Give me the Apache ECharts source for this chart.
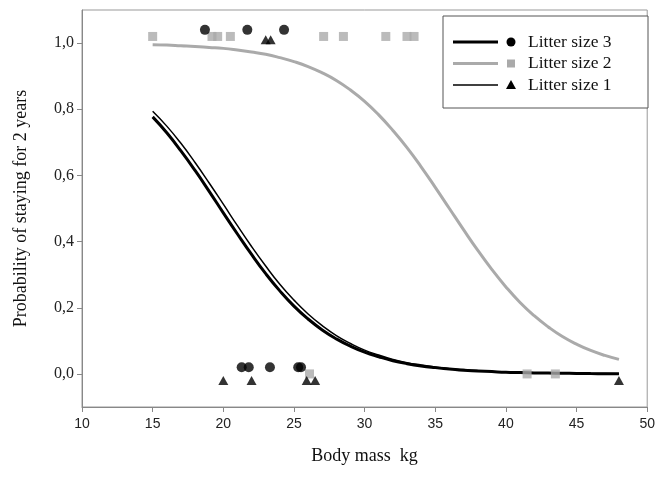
<!DOCTYPE html>
<html>
<head>
<meta charset="utf-8">
<script src="https://cdn.jsdelivr.net/npm/echarts@6/dist/echarts.min.js"></script>
<style>html,body{margin:0;padding:0;background:#fff}#c{width:658px;height:477px}</style>
</head>
<body>
<div id="c"></div>
<script>
// Fitted curves
const curveX = [15,16,17,18,19,20,21,22,23,24,25,26,27,28,29,30,31,32,33,34,35,36,37,38,39,40,41,42,43,44,45,46,47,48];
const curveLitter3 = [0.777,0.729,0.674,0.615,0.552,0.487,0.423,0.361,0.303,0.251,0.205,0.166,0.133,0.106,0.084,0.066,0.052,0.040,0.031,0.024,0.019,0.015,0.011,0.009,0.007,0.005,0.004,0.003,0.0025,0.002,0.0015,0.001,0.0008,0.0006];
const curveLitter2 = [0.995,0.994,0.992,0.990,0.987,0.984,0.979,0.973,0.966,0.956,0.944,0.929,0.910,0.887,0.858,0.824,0.783,0.736,0.684,0.626,0.564,0.500,0.436,0.374,0.316,0.263,0.216,0.176,0.142,0.113,0.090,0.071,0.056,0.044];
const curveLitter1 = [0.794,0.749,0.697,0.639,0.577,0.513,0.448,0.385,0.326,0.271,0.223,0.181,0.146,0.116,0.092,0.072,0.057,0.044,0.034,0.027,0.021,0.016,0.013,0.010,0.0075,0.006,0.0045,0.0035,0.0027,0.002,0.0016,0.0012,0.0009,0.0007];

// Observations
const obsLitter3X = [18.7,21.7,24.3,21.3,21.8,23.3,25.3,25.5];
const obsLitter3Y = [1.04,1.04,1.04,0.02,0.02,0.02,0.02,0.02];
const obsLitter2X = [15,19.2,19.6,20.5,27.1,28.5,31.5,33.0,33.5,26.1,41.5,43.5];
const obsLitter2Y = [1.02,1.02,1.02,1.02,1.02,1.02,1.02,1.02,1.02,0.0,0.0,0.0];
const obsLitter1X = [23.0,23.35,20.0,22.0,25.9,26.5,48];
const obsLitter1Y = [1.01,1.01,-0.02,-0.02,-0.02,-0.02,-0.02];

const yTickValues = [0,0.2,0.4,0.6,0.8,1.0];
const legendNames = ['Litter size 3','Litter size 2','Litter size 1'];

const zip = (xs, ys) => xs.map((x, i) => [x, ys[i]]);
const serif = 'Liberation Serif, Times New Roman, serif';
const sans = 'Liberation Sans, Arial, sans-serif';
const GRAY = '#aaaaaa';

const chart = echarts.init(document.getElementById('c'), null, {renderer: 'canvas'});

const legendTop = 42, legendStep = 21.5;
const legendGraphics = [
  {type: 'rect', shape: {x: 443, y: 16, width: 205, height: 92}, style: {fill: '#fff', stroke: '#555', lineWidth: 1}, z: 100}
];
const legendLine = [
  {stroke: '#000', lineWidth: 3},
  {stroke: GRAY, lineWidth: 3},
  {stroke: '#000', lineWidth: 1.5}
];
legendNames.forEach((name, i) => {
  const y = legendTop + i * legendStep;
  legendGraphics.push({type: 'line', shape: {x1: 453, y1: y, x2: 498, y2: y}, style: legendLine[i], z: 101});
  if (i === 0) legendGraphics.push({type: 'circle', shape: {cx: 511, cy: y, r: 4.5}, style: {fill: '#000'}, z: 101});
  if (i === 1) legendGraphics.push({type: 'rect', shape: {x: 507, y: y - 4, width: 8, height: 8}, style: {fill: GRAY}, z: 101});
  if (i === 2) legendGraphics.push({type: 'polygon', shape: {points: [[511, y - 5], [516, y + 4], [506, y + 4]]}, style: {fill: '#000'}, z: 101});
  legendGraphics.push({type: 'text', x: 528, y: y, style: {text: name, font: '17.5px ' + serif, fill: '#111', verticalAlign: 'middle', align: 'left'}, z: 101});
});

chart.setOption({
  animation: false,
  backgroundColor: '#fff',
  grid: {left: 82, right: 8, top: 10, bottom: 70, show: true, borderColor: '#999', borderWidth: 1},
  xAxis: {
    type: 'value', min: 10, max: 50, interval: 5,
    name: 'Body mass  kg', nameLocation: 'middle', nameGap: 40,
    nameTextStyle: {fontFamily: serif, fontSize: 18, color: '#111'},
    axisLine: {show: true, onZero: false, lineStyle: {color: '#888', width: 1}},
    axisTick: {show: true, length: 5, lineStyle: {color: '#888'}},
    axisLabel: {fontFamily: sans, fontSize: 14, color: '#222', margin: 10},
    splitLine: {show: false}
  },
  yAxis: {
    type: 'value', min: -0.1, max: 1.1,
    name: 'Probability of staying for 2 years', nameLocation: 'middle', nameGap: 52,
    nameTextStyle: {fontFamily: serif, fontSize: 18, color: '#111'},
    axisLine: {show: true, onZero: false, lineStyle: {color: '#888', width: 1}},
    axisTick: {show: true, length: 5, lineStyle: {color: '#888'}, customValues: yTickValues},
    axisLabel: {fontFamily: serif, fontSize: 16, color: '#222', margin: 8, customValues: yTickValues,
      formatter: v => v.toFixed(1).replace('.', ',')},
    splitLine: {show: false}
  },
  series: [
    {name: 'Litter size 2', type: 'line', data: zip(curveX, curveLitter2), smooth: true, showSymbol: false, lineStyle: {color: GRAY, width: 3}, z: 2},
    {name: 'Litter size 3', type: 'line', data: zip(curveX, curveLitter3), smooth: true, showSymbol: false, lineStyle: {color: '#000', width: 3}, z: 3},
    {name: 'Litter size 1', type: 'line', data: zip(curveX, curveLitter1), smooth: true, showSymbol: false, lineStyle: {color: '#000', width: 1.5}, z: 3},
    {name: 'Litter size 2 obs', type: 'scatter', data: zip(obsLitter2X, obsLitter2Y), symbol: 'rect', symbolSize: 9, itemStyle: {color: GRAY}, z: 4},
    {name: 'Litter size 3 obs', type: 'scatter', data: zip(obsLitter3X, obsLitter3Y), symbol: 'circle', symbolSize: 10, itemStyle: {color: '#000'}, z: 5},
    {name: 'Litter size 1 obs', type: 'scatter', data: zip(obsLitter1X, obsLitter1Y), symbol: 'triangle', symbolSize: [10, 9], itemStyle: {color: '#000'}, z: 5}
  ],
  graphic: legendGraphics
});
</script>
</body>
</html>
